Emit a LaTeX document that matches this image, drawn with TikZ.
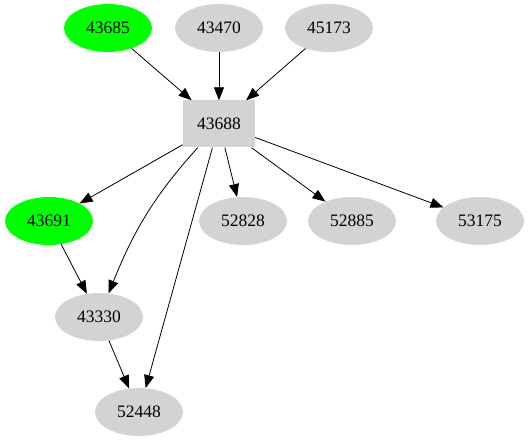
\documentclass[tikz,border=0pt]{standalone}
\usepackage{fontspec}
\setmainfont{Liberation Serif}
\usepackage{tikz}
\usetikzlibrary{shapes.geometric, arrows.meta}
\definecolor{nodegray}{HTML}{D3D3D3}
\definecolor{nodegreen}{HTML}{00FF00}

\begin{document}
\begin{tikzpicture}[
    x=1pt, y=-1pt,
    item/.style={ellipse, fill=nodegray, minimum width=88pt, minimum height=48pt, inner sep=0pt, font=\fontsize{17.5}{20}\selectfont},
    hit/.style={item, fill=nodegreen},
    hub/.style={rectangle, fill=nodegray, minimum width=72pt, minimum height=47pt, inner sep=0pt, font=\fontsize{17.5}{20}\selectfont},
    arrow/.style={-{Triangle[length=13pt, width=10pt]}, line width=0.8pt, color=black}
]
    \useasboundingbox (0,0) rectangle (529,443);

    % --- Row 1: sources ---
    \node[hit] (n43685) at (108, 28) {43685};
    \node[item] (n43470) at (219, 28) {43470};
    \node[item] (n45173) at (329, 28) {45173};

    % --- Row 2: hub ---
    \node[hub] (n43688) at (219, 124) {43688};

    % --- Row 3 ---
    \node[hit] (n43691) at (49, 221) {43691};
    \node[item] (n52828) at (243, 221) {52828};
    \node[item] (n52885) at (352, 221) {52885};
    \node[item] (n53175) at (480, 221) {53175};

    % --- Rows 4 and 5 ---
    \node[item] (n43330) at (99, 317) {43330};
    \node[item] (n52448) at (139, 412) {52448};

    % Connections into the hub
    \draw[arrow] (n43685) -- (n43688);
    \draw[arrow] (n43470) -- (n43688);
    \draw[arrow] (n45173) -- (n43688);

    % Connections out of the hub
    \draw[arrow] (n43688) -- (n43691);
    \draw[arrow] (n43688) to[out=-132, in=68] (n43330);
    \draw[arrow] (n43688) -- (n52448);
    \draw[arrow] (n43688) -- (n52828);
    \draw[arrow] (n43688) -- (n52885);
    \draw[arrow] (n43688) -- (n53175);

    % Lower chain
    \draw[arrow] (n43691) -- (n43330);
    \draw[arrow] (n43330) -- (n52448);
\end{tikzpicture}
\end{document}
